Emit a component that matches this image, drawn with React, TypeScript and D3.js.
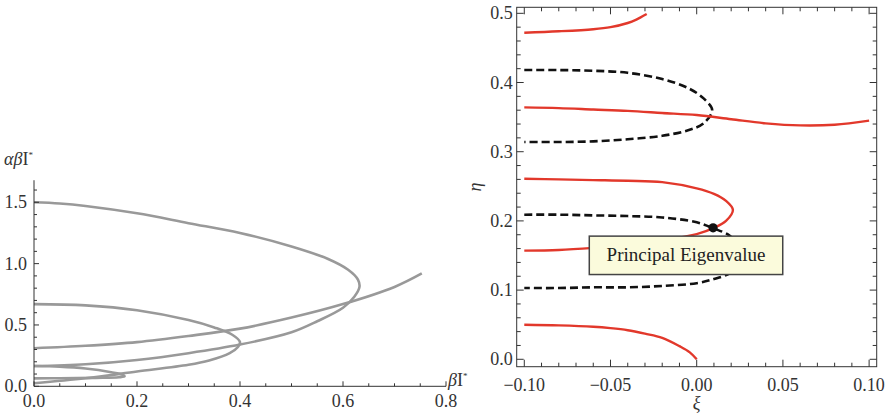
import React from 'react';
import * as d3 from 'd3';

type Pt = [number, number];

// ---- left panel: αβI* against βI* (each loop listed along its path) ----
const loopBig: Pt[] = [
  [0, 1.5], [0.05, 1.49], [0.1, 1.47], [0.2, 1.41], [0.3, 1.33], [0.4, 1.25],
  [0.5, 1.14], [0.57, 1.04], [0.61, 0.95], [0.629, 0.87], [0.632, 0.81],
  [0.622, 0.73], [0.6, 0.64], [0.55, 0.53], [0.5, 0.44], [0.4, 0.34],
  [0.3, 0.27], [0.2, 0.215], [0.1, 0.18], [0, 0.165],
];
const loopMid: Pt[] = [
  [0, 0.67], [0.1, 0.66], [0.2, 0.62], [0.3, 0.54], [0.35, 0.48], [0.385, 0.42],
  [0.4, 0.36], [0.396, 0.32], [0.38, 0.27], [0.34, 0.21], [0.3, 0.175],
  [0.2, 0.12], [0.1, 0.065], [0, 0.025],
];
const loopSmall: Pt[] = [
  [0, 0.165], [0.05, 0.16], [0.1, 0.145], [0.15, 0.115], [0.172, 0.095],
  [0.176, 0.082], [0.165, 0.074], [0.12, 0.069], [0.05, 0.066], [0, 0.065],
];
const openBranch: Pt[] = [
  [0, 0.31], [0.1, 0.33], [0.2, 0.36], [0.3, 0.41], [0.4, 0.47], [0.5, 0.56],
  [0.6, 0.67], [0.7, 0.81], [0.753, 0.92],
];
const leftCurves = [loopBig, loopMid, loopSmall, openBranch];

const leftXMajor = [0, 0.2, 0.4, 0.6, 0.8];
const leftYMajor = [0, 0.5, 1.0, 1.5];

// ---- right panel: η against ξ ----
const redTop: Pt[] = [
  [-0.1, 0.472], [-0.08, 0.474], [-0.06, 0.477], [-0.05, 0.48], [-0.04, 0.486],
  [-0.035, 0.491], [-0.029, 0.499],
];
const redCross: Pt[] = [
  [-0.1, 0.364], [-0.08, 0.363], [-0.06, 0.361], [-0.04, 0.359], [-0.02, 0.356],
  [0, 0.353], [0.02, 0.347], [0.04, 0.341], [0.06, 0.338], [0.08, 0.339], [0.1, 0.345],
];
const redLoop: Pt[] = [
  [-0.1, 0.261], [-0.08, 0.26], [-0.06, 0.259], [-0.04, 0.258], [-0.02, 0.256],
  [0, 0.247], [0.01, 0.239], [0.017, 0.229], [0.021, 0.216], [0.017, 0.2],
  [0.01, 0.19], [0, 0.181], [-0.02, 0.172], [-0.04, 0.165], [-0.06, 0.161],
  [-0.08, 0.158], [-0.1, 0.157],
];
const redBottom: Pt[] = [
  [-0.1, 0.05], [-0.08, 0.049], [-0.06, 0.047], [-0.05, 0.045], [-0.04, 0.042],
  [-0.03, 0.037], [-0.02, 0.031], [-0.01, 0.019], [-0.004, 0.01], [0, 0],
];
const dashUpper: Pt[] = [
  [-0.1, 0.418], [-0.08, 0.418], [-0.06, 0.417], [-0.04, 0.414], [-0.02, 0.405],
  [-0.005, 0.392], [0.004, 0.377], [0.009, 0.36], [0.004, 0.341], [-0.005, 0.331],
  [-0.02, 0.323], [-0.04, 0.318], [-0.06, 0.315], [-0.08, 0.314], [-0.1, 0.314],
];
const dashLower: Pt[] = [
  [-0.1, 0.209], [-0.08, 0.209], [-0.06, 0.208], [-0.04, 0.207], [-0.02, 0.205],
  [0, 0.198], [0.01, 0.189], [0.019, 0.179], [0.024, 0.165], [0.026, 0.15],
  [0.024, 0.135], [0.019, 0.124], [0.01, 0.116], [0, 0.11], [-0.02, 0.106],
  [-0.04, 0.104], [-0.06, 0.104], [-0.08, 0.103], [-0.1, 0.103],
];
const redCurves = [redTop, redCross, redLoop, redBottom];
const dashCurves = [dashUpper, dashLower];

const principal: Pt = [0.0095, 0.19];
const principalLabel = 'Principal Eigenvalue';
// label box corners in data coords
const boxCorners: Pt[] = [[-0.0623, 0.178], [0.0499, 0.1225]];

const rightXMajor = [-0.1, -0.05, 0, 0.05, 0.1];
const rightYMajor = [0, 0.1, 0.2, 0.3, 0.4, 0.5];

const FONT = "'Liberation Serif', 'Times New Roman', Times, 'DejaVu Serif', serif";
const AXIS = '#333';

const range = (a: number, b: number, step: number) =>
  d3.range(Math.round((b - a) / step) + 1).map(i => +(a + i * step).toFixed(4));

const App = () => {
  // left scales
  const xL = d3.scaleLinear().domain([0, 0.8]).range([34, 446]);
  const yL = d3.scaleLinear().domain([0, 1.5]).range([386.3, 202.3]);
  const yLTop = 1.68;

  // right scales (frame spans a little beyond the ticks)
  const xR = d3.scaleLinear().domain([-0.1044, 0.1044]).range([516.7, 876.7]);
  const yR = d3.scaleLinear().domain([-0.0107, 0.5087]).range([366.7, 7.3]);
  const [fx0, fx1] = xR.range();
  const [fy0, fy1] = yR.range();

  const lineL = d3.line<Pt>().x(d => xL(d[0])).y(d => yL(d[1])).curve(d3.curveCatmullRom.alpha(0.5));
  const lineR = d3.line<Pt>().x(d => xR(d[0])).y(d => yR(d[1])).curve(d3.curveCatmullRom.alpha(0.5));

  const fmtR2 = d3.format('.2f');
  const fmt1 = d3.format('.1f');

  const leftXMinor = range(0, 0.8, 0.05);
  const leftYMinor = range(0, 1.6, 0.1);
  const rightXMinor = range(-0.1, 0.1, 0.01);
  const rightYMinor = range(0, 0.5, 0.02);
  const isMajor = (v: number, majors: number[]) => majors.some(m => Math.abs(m - v) < 1e-6);

  const bx0 = xR(boxCorners[0][0]);
  const by0 = yR(boxCorners[0][1]);
  const bx1 = xR(boxCorners[1][0]);
  const by1 = yR(boxCorners[1][1]);

  const txt = { fontFamily: FONT };

  return (
    <svg width={890} height={413} style={{ position: 'absolute', left: 0, top: 0, background: '#fff', fontFamily: FONT }}>
      {/* ---------- left panel ---------- */}
      <g>
        {leftCurves.map((c, i) => (
          <path key={i} d={lineL(c) ?? ''} fill="none" stroke="#999" strokeWidth={2.6} />
        ))}
        <line x1={xL(0)} x2={xL(0.8)} y1={yL(0)} y2={yL(0)} stroke={AXIS} strokeWidth={1} />
        <line x1={xL(0)} x2={xL(0)} y1={yL(0)} y2={yL(yLTop)} stroke={AXIS} strokeWidth={1} />
        {leftXMinor.map(v => (
          <line key={'lx' + v} x1={xL(v)} x2={xL(v)} y1={yL(0)}
            y2={yL(0) - (isMajor(v, leftXMajor) ? 5 : 3)} stroke={AXIS} />
        ))}
        {leftYMinor.map(v => (
          <line key={'ly' + v} y1={yL(v)} y2={yL(v)} x1={xL(0)}
            x2={xL(0) + (isMajor(v, leftYMajor) ? 5 : 3)} stroke={AXIS} />
        ))}
        {leftXMajor.map(v => (
          <text key={'lxt' + v} style={txt} x={xL(v)} y={yL(0) + 21} textAnchor="middle" fontSize={18} fill={AXIS}>
            {fmt1(v)}
          </text>
        ))}
        {leftYMajor.map(v => (
          <text key={'lyt' + v} style={txt} x={xL(0) - 7} y={yL(v) + 6} textAnchor="end" fontSize={18} fill={AXIS}>
            {fmt1(v)}
          </text>
        ))}
        <text style={txt} x={4} y={165} fontSize={18} fill={AXIS}>
          <tspan fontStyle="italic">αβ</tspan>I<tspan fontSize={9} dy={-7}>*</tspan>
        </text>
        <text style={txt} x={448} y={386} fontSize={18} fill={AXIS}>
          <tspan fontStyle="italic">β</tspan>I<tspan fontSize={9} dy={-7}>*</tspan>
        </text>
      </g>

      {/* ---------- right panel ---------- */}
      <g>
        {dashCurves.map((c, i) => (
          <path key={'d' + i} d={lineR(c) ?? ''} fill="none" stroke="#111" strokeWidth={2.6}
            strokeDasharray="8 4" />
        ))}
        {redCurves.map((c, i) => (
          <path key={'r' + i} d={lineR(c) ?? ''} fill="none" stroke="#e2382b" strokeWidth={2.4} />
        ))}
        <circle cx={xR(principal[0])} cy={yR(principal[1])} r={4.6} fill="#111" />
        <rect x={bx0} y={by0} width={bx1 - bx0} height={by1 - by0} fill="#fbfbdc"
          stroke="#444" strokeWidth={1.5} />
        <text style={txt} x={(bx0 + bx1) / 2} y={(by0 + by1) / 2 + 6} textAnchor="middle" fontSize={19} fill="#222">
          {principalLabel}
        </text>

        <rect x={fx0} y={fy1} width={fx1 - fx0} height={fy0 - fy1} fill="none" stroke={AXIS} strokeWidth={1} />
        {rightXMinor.map(v => {
          const len = isMajor(v, rightXMajor) ? 7 : 4;
          return (
            <g key={'rx' + v}>
              <line x1={xR(v)} x2={xR(v)} y1={fy0} y2={fy0 - len} stroke={AXIS} />
              <line x1={xR(v)} x2={xR(v)} y1={fy1} y2={fy1 + len} stroke={AXIS} />
            </g>
          );
        })}
        {rightYMinor.map(v => {
          const len = isMajor(v, rightYMajor) ? 7 : 4;
          return (
            <g key={'ry' + v}>
              <line y1={yR(v)} y2={yR(v)} x1={fx0} x2={fx0 + len} stroke={AXIS} />
              <line y1={yR(v)} y2={yR(v)} x1={fx1} x2={fx1 - len} stroke={AXIS} />
            </g>
          );
        })}
        {rightXMajor.map(v => (
          <text key={'rxt' + v} style={txt} x={xR(v)} y={fy0 + 24} textAnchor="middle" fontSize={18} fill={AXIS}>
            {fmtR2(v)}
          </text>
        ))}
        {rightYMajor.map(v => (
          <text key={'ryt' + v} style={txt} x={fx0 - 4} y={yR(v) + 6} textAnchor="end" fontSize={18} fill={AXIS}>
            {fmt1(v)}
          </text>
        ))}
        <text style={txt} x={xR(0)} y={409} textAnchor="middle" fontSize={18} fontStyle="italic" fill={AXIS}>ξ</text>
        <text style={txt} transform={`translate(481,${(fy0 + fy1) / 2}) rotate(-90)`} textAnchor="middle"
          fontSize={18} fontStyle="italic" fill={AXIS}>η</text>
      </g>
    </svg>
  );
};

export default App;
